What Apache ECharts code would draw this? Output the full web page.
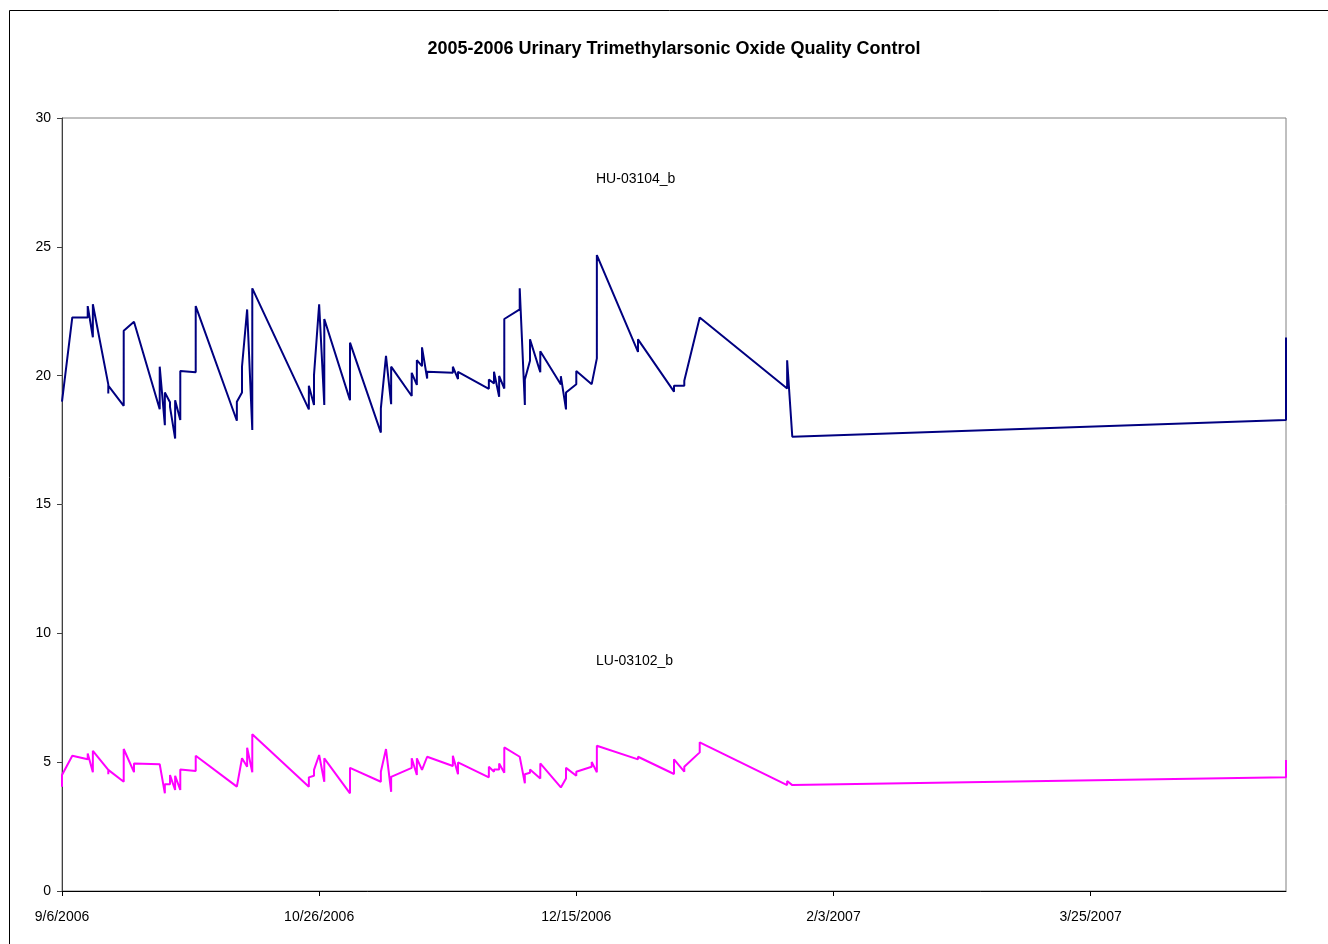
<!DOCTYPE html>
<html>
<head>
<meta charset="utf-8">
<script src="https://cdn.jsdelivr.net/npm/echarts@6/dist/echarts.min.js"></script>
<style>
html,body{margin:0;padding:0;background:#fff;}
#chart{width:1328px;height:944px;}
</style>
</head>
<body>
<div id="chart"></div>
<script>
var titleText = '2005-2006 Urinary Trimethylarsonic Oxide Quality Control';
var seriesNames = ['HU-03104_b', 'LU-03102_b'];
var startDate = '2006-09-06';
var endDate = '2007-05-02';
var xTickDays = [0, 50, 100, 150, 200];
var yTicks = [0, 5, 10, 15, 20, 25, 30];

var hiDates = [
'2006-09-06','2006-09-08','2006-09-11','2006-09-11','2006-09-12','2006-09-12',
'2006-09-15','2006-09-15','2006-09-15','2006-09-18','2006-09-18','2006-09-20',
'2006-09-25','2006-09-25','2006-09-26','2006-09-26','2006-09-27','2006-09-27',
'2006-09-28','2006-09-28','2006-09-29','2006-09-29','2006-10-02','2006-10-02',
'2006-10-10','2006-10-10','2006-10-11','2006-10-11','2006-10-12','2006-10-13','2006-10-13',
'2006-10-24','2006-10-24','2006-10-25','2006-10-25','2006-10-26','2006-10-27','2006-10-27',
'2006-11-01','2006-11-01','2006-11-07','2006-11-07','2006-11-08','2006-11-09','2006-11-09',
'2006-11-13','2006-11-13','2006-11-14','2006-11-14','2006-11-15','2006-11-15',
'2006-11-16','2006-11-16','2006-11-21','2006-11-21','2006-11-22','2006-11-22',
'2006-11-28','2006-11-28','2006-11-29','2006-11-29','2006-11-30','2006-11-30',
'2006-12-01','2006-12-01','2006-12-04','2006-12-04','2006-12-05','2006-12-05',
'2006-12-06','2006-12-06','2006-12-08','2006-12-08','2006-12-12','2006-12-12',
'2006-12-13','2006-12-13','2006-12-15','2006-12-15','2006-12-18','2006-12-19','2006-12-19',
'2006-12-27','2006-12-27','2007-01-03','2007-01-03','2007-01-05','2007-01-05','2007-01-08',
'2007-01-25','2007-01-25','2007-01-26','2007-01-26','2007-05-02','2007-05-02'
];
var hiValues = [
18.99,22.26,22.26,22.70,21.49,22.77,
19.66,19.31,19.61,18.83,21.74,22.09,
18.70,20.35,18.08,19.35,18.97,18.79,
17.56,19.05,18.28,20.18,20.13,22.70,
18.25,18.99,19.35,20.35,22.57,17.89,23.39,
18.69,19.61,18.86,20.02,22.77,18.86,22.20,
19.05,21.28,17.79,18.73,20.77,18.89,20.35,
19.21,20.11,19.64,20.60,20.37,21.10,
19.89,20.15,20.11,20.35,19.87,20.15,
19.49,19.85,19.70,20.15,19.18,19.99,
19.50,22.20,22.57,23.39,18.86,19.85,
20.58,21.41,20.13,20.95,19.66,19.98,
18.69,19.35,19.67,20.18,19.67,20.67,24.68,
20.92,21.41,19.38,19.61,19.61,19.80,22.26,
19.50,20.60,17.63,17.69,18.28,21.48
];

var loDates = [
'2006-09-06','2006-09-06','2006-09-08','2006-09-11','2006-09-11','2006-09-12','2006-09-12',
'2006-09-15','2006-09-15','2006-09-15','2006-09-18','2006-09-18','2006-09-20','2006-09-20',
'2006-09-25','2006-09-26','2006-09-26','2006-09-27','2006-09-27','2006-09-28','2006-09-28',
'2006-09-29','2006-09-29','2006-10-02','2006-10-02','2006-10-10','2006-10-11',
'2006-10-12','2006-10-12','2006-10-13','2006-10-13','2006-10-24','2006-10-24',
'2006-10-25','2006-10-25','2006-10-26','2006-10-27','2006-10-27','2006-11-01','2006-11-01',
'2006-11-07','2006-11-07','2006-11-08','2006-11-09','2006-11-09','2006-11-13','2006-11-13',
'2006-11-14','2006-11-14','2006-11-15','2006-11-16','2006-11-21','2006-11-21',
'2006-11-22','2006-11-22','2006-11-28','2006-11-28','2006-11-29','2006-11-29',
'2006-11-30','2006-11-30','2006-12-01','2006-12-01','2006-12-04','2006-12-05','2006-12-05',
'2006-12-06','2006-12-06','2006-12-08','2006-12-08','2006-12-12','2006-12-13','2006-12-13',
'2006-12-15','2006-12-15','2006-12-18','2006-12-18','2006-12-19','2006-12-19',
'2006-12-27','2006-12-27','2007-01-03','2007-01-03','2007-01-05','2007-01-05',
'2007-01-08','2007-01-08','2007-01-25','2007-01-25','2007-01-26','2007-01-26',
'2007-05-02','2007-05-02'
];
var loValues = [
4.05,4.50,5.25,5.11,5.34,4.61,5.44,
4.70,4.53,4.70,4.24,5.51,4.61,4.95,
4.92,3.79,4.14,4.14,4.50,3.92,4.47,
3.92,4.72,4.66,5.25,4.05,5.15,
4.82,5.56,4.61,6.08,4.05,4.41,
4.47,4.70,5.28,4.24,5.15,3.79,4.78,
4.24,4.63,5.51,3.85,4.43,4.78,5.15,
4.50,5.15,4.70,5.21,4.85,5.25,
4.53,4.99,4.41,4.82,4.63,4.72,
4.72,4.95,4.59,5.57,5.21,4.18,4.53,
4.59,4.72,4.37,4.95,4.02,4.37,4.78,
4.47,4.63,4.82,5.01,4.61,5.64,
5.11,5.21,4.54,5.11,4.63,4.82,
5.38,5.77,4.11,4.27,4.11,4.18,
4.41,5.08
];

var DAY = 86400000;
function dayNum(s){ var p = s.split('-'); return Date.UTC(+p[0], +p[1]-1, +p[2]) / DAY; }
var base = dayNum(startDate);
function toOffset(s){ return dayNum(s) - base; }
function fmt(off){
  var d = new Date((base + off) * DAY);
  return (d.getUTCMonth()+1) + '/' + d.getUTCDate() + '/' + d.getUTCFullYear();
}
function pairs(dates, vals){ return dates.map(function(d,i){ return [toOffset(d), vals[i]]; }); }

var FONT = '"Liberation Sans", Arial, sans-serif';
var chart = echarts.init(document.getElementById('chart'), null, {renderer:'canvas'});
chart.setOption({
  animation: false,
  backgroundColor: '#fff',
  title: {
    text: titleText, left: 669, top: 35, textAlign: 'center',
    textStyle: {fontFamily: FONT, fontSize: 18, fontWeight: 'bold', color: '#000'}
  },
  grid: {left: 62, top: 118, right: 42, bottom: 53, show: true, borderColor: '#808080', borderWidth: 1, backgroundColor: 'transparent'},
  xAxis: {
    type: 'value', min: 0, max: toOffset(endDate), interval: 50,
    splitLine: {show: false},
    axisLine: {show: true, onZero: false, lineStyle: {color: '#000', width: 1}},
    axisTick: {show: true, inside: false, length: 5, lineStyle: {color: '#000'}, customValues: xTickDays},
    axisLabel: {customValues: xTickDays, formatter: function(v){ return fmt(v); },
      fontFamily: FONT, fontSize: 14, color: '#000', margin: 19}
  },
  yAxis: {
    type: 'value', min: yTicks[0], max: yTicks[yTicks.length-1], interval: 5,
    splitLine: {show: false},
    axisLine: {show: true, lineStyle: {color: '#404040', width: 1}},
    axisTick: {show: true, inside: false, length: 5, lineStyle: {color: '#404040'}},
    axisLabel: {fontFamily: FONT, fontSize: 14, color: '#000', margin: 11}
  },
  graphic: [
    {type: 'rect', shape: {x: 9.5, y: 10.5, width: 1340, height: 960}, style: {fill: 'none', stroke: '#000', lineWidth: 1}, silent: true, z: 100},
    {type: 'text', left: 596, top: 172, style: {text: seriesNames[0], font: '14px ' + FONT, fill: '#000'}},
    {type: 'text', left: 596, top: 654, style: {text: seriesNames[1], font: '14px ' + FONT, fill: '#000'}}
  ],
  series: [
    {name: seriesNames[0], type: 'line', data: pairs(hiDates, hiValues), showSymbol: false, symbol: 'none',
      lineStyle: {color: '#000080', width: 2}, itemStyle: {color: '#000080'}},
    {name: seriesNames[1], type: 'line', data: pairs(loDates, loValues), showSymbol: false, symbol: 'none',
      lineStyle: {color: '#FF00FF', width: 2}, itemStyle: {color: '#FF00FF'}}
  ]
});
</script>
</body>
</html>
